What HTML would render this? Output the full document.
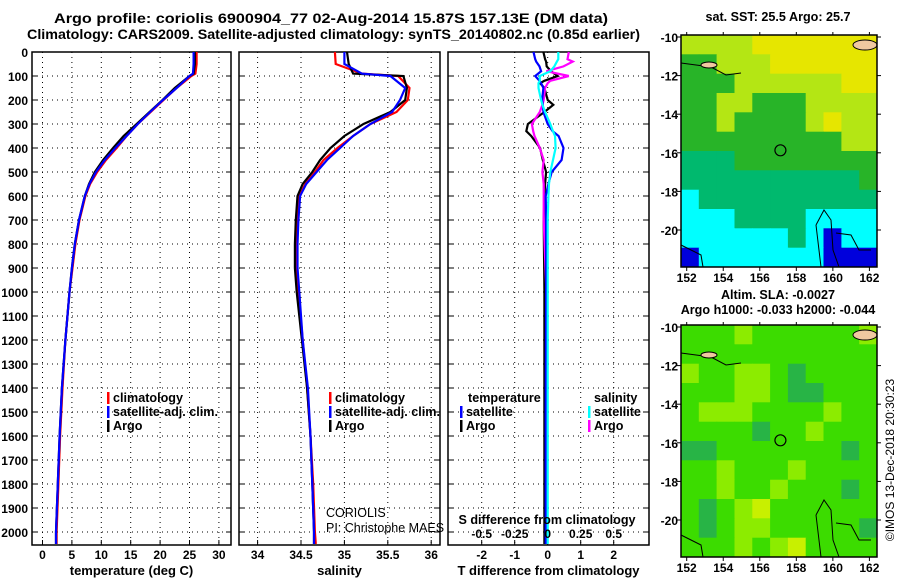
<!DOCTYPE html>
<html><head><meta charset="utf-8"><style>
html,body{margin:0;padding:0;background:#fff;}
svg{display:block;font-family:"Liberation Sans",sans-serif;}
.b{font-weight:bold;font-size:12px;}
.lg{font-weight:bold;font-size:12.6px;}
.at{font-weight:bold;font-size:13px;}
.t{font-weight:bold;font-size:14px;}
</style></head><body>
<svg id="chart" width="900" height="580" viewBox="0 0 900 580" xmlns="http://www.w3.org/2000/svg">
<text class="t" x="54" y="23" textLength="554" lengthAdjust="spacingAndGlyphs">Argo profile: coriolis 6900904_77 02-Aug-2014 15.87S 157.13E (DM data)</text>
<text class="t" x="27" y="39" textLength="613" lengthAdjust="spacingAndGlyphs">Climatology: CARS2009. Satellite-adjusted climatology: synTS_20140802.nc (0.85d earlier)</text>
<g id="g1"></g>
<g id="g2"></g>
<g id="g3"></g>
<g id="m1"></g>
<g id="m2"></g>
<text x="0" y="0" font-size="12" transform="translate(894,460) rotate(-90)" text-anchor="middle">©IMOS 13-Dec-2018 20:30:23</text>
</svg>
<script>
// ---- data ----
const depths = [0,50,90,100,150,200,250,300,350,400,450,500,550,600,700,800,900,1000,1200,1400,1600,1800,2000,2050];
const tempArgo = [25.9,25.9,25.7,25.0,22.5,20.4,18.2,16.0,13.8,12.0,10.3,8.9,7.9,7.2,6.2,5.5,5.0,4.6,3.9,3.3,2.9,2.6,2.3,2.3];
const tempClim = [26.2,26.2,26.0,25.3,22.8,20.6,18.4,16.2,14.3,12.6,10.8,9.3,8.1,7.3,6.3,5.6,5.1,4.6,3.9,3.4,3.0,2.7,2.4,2.4];
const tempSat  = [25.7,25.7,25.6,25.0,22.8,20.5,18.3,16.2,14.3,12.4,10.6,9.1,8.0,7.2,6.2,5.5,5.0,4.6,3.9,3.3,2.9,2.6,2.3,2.3];
const salArgo = [35.03,35.05,35.1,35.68,35.72,35.70,35.53,35.22,35.00,34.84,34.72,34.63,34.52,34.46,34.44,34.43,34.43,34.45,34.51,34.57,34.61,34.63,34.65,34.65];
const salClim = [34.89,34.90,35.2,35.62,35.75,35.73,35.60,35.30,35.10,34.92,34.76,34.66,34.55,34.48,34.46,34.45,34.45,34.47,34.52,34.57,34.61,34.64,34.66,34.67];
const salSat  = [35.00,35.00,35.2,35.53,35.70,35.64,35.55,35.30,35.10,34.95,34.80,34.68,34.56,34.49,34.47,34.46,34.46,34.48,34.52,34.58,34.61,34.63,34.65,34.65];
const diffDepths = [0,30,40,60,80,100,120,130,150,200,220,250,300,330,350,400,450,500,550,600,700,1000,1500,2050];
const tdiffArgo = [-0.13,-0.08,-0.05,-0.03,0.1,0.3,-0.1,-0.23,-0.1,0.0,0.17,-0.1,-0.6,-0.65,-0.5,-0.23,-0.15,-0.05,-0.08,-0.1,-0.12,-0.1,-0.1,-0.1];
const tdiffSat  = [-0.43,-0.38,-0.35,-0.25,-0.2,-0.38,-0.25,-0.2,-0.13,-0.17,-0.15,-0.13,0.0,0.15,0.33,0.48,0.42,0.12,0.02,-0.06,-0.05,-0.05,-0.06,-0.06];
const sdiffSat  = [0.08,0.08,0.07,0.05,0.02,-0.06,-0.06,-0.07,-0.07,-0.05,-0.04,-0.02,0.02,0.04,0.055,0.06,0.04,0.02,0.01,0.005,0.0,0.0,0.0,0.0];
const sdiffArgo = [0.16,0.15,0.19,0.12,-0.01,0.16,0.02,0.0,-0.02,-0.03,-0.04,-0.06,-0.12,-0.11,-0.1,-0.06,-0.03,-0.04,-0.03,-0.03,-0.03,-0.01,-0.01,-0.01];
const depthTicks = [0,100,200,300,400,500,600,700,800,900,1000,1100,1200,1300,1400,1500,1600,1700,1800,1900,2000];
const tempTicks = [0,5,10,15,20,25,30];
const salTicks = [34,34.5,35,35.5,36];
const salTickLabels = ["34","34.5","35","35.5","36"];
const tdTicks = [-2,-1,0,1,2];
const sdTicks = [-0.5,-0.25,0,0.25,0.5];
const sdTickLabels = ["-0.5","-0.25","0","0.25","0.5"];
const lonTicks = [152,154,156,158,160,162];
const latTicks = [-10,-12,-14,-16,-18,-20];
const sstGrid = [
[4,4,4,4,5,5,5,5,5,5,5],
[3,3,4,4,4,5,5,5,5,5,5],
[3,3,3,4,4,4,4,4,4,5,5],
[3,3,4,4,3,3,3,4,4,4,4],
[3,3,4,3,3,3,3,4,5,4,4],
[3,3,3,3,3,3,3,3,3,4,4],
[2,2,2,3,3,3,3,3,3,3,3],
[2,2,2,2,2,2,2,2,2,2,3],
[1,2,2,2,2,2,2,2,2,2,2],
[1,1,1,2,2,2,2,1,1,1,1],
[1,1,1,1,1,1,2,1,0,1,1],
[0,1,1,1,1,1,1,1,0,0,0]];
const slaGrid = [
[1,1,1,2,1,1,1,1,1,1,2],
[1,1,1,1,1,1,1,1,1,1,1],
[2,1,1,2,2,1,0,1,1,1,1],
[1,1,1,2,2,1,0,0,1,1,1],
[1,2,2,2,1,1,1,1,2,1,1],
[1,1,1,1,0,1,1,2,1,1,1],
[0,0,1,1,1,1,1,1,1,0,1],
[1,1,2,1,1,1,2,1,1,1,1],
[1,1,2,1,1,2,1,1,1,0,1],
[1,0,1,2,3,1,1,1,1,1,1],
[1,0,1,2,2,1,1,1,1,1,0],
[1,1,1,2,1,2,3,1,1,1,1]];
const sstColors = ["#0000dc","#00ffff","#00b96e","#28b428","#b4e614","#e6e600"];
const slaColors = ["#28b446","#3cdc00","#8cec00","#c8f000"];
const argoLon = 157.13, argoLat = -15.87;

// ---- helpers ----
const NS="http://www.w3.org/2000/svg";
function mk(parent,tag,attrs,text){const e=document.createElementNS(NS,tag);for(const k in attrs)e.setAttribute(k,attrs[k]);if(text!==undefined)e.textContent=text;parent.appendChild(e);return e;}
const Y0=52, Y1=545;
const yD = d => Y0 + d*0.24;

function panel(g,x0,x1,xs,xticks,xlabels,title,grid){
  const frame=mk(g,'rect',{x:x0,y:Y0,width:x1-x0,height:Y1-Y0,fill:'none',stroke:'#000','stroke-width':1.5});
  
  
  depthTicks.forEach(d=>{
    const l=mk(g,'line',{x1:x0,x2:x1,y1:yD(d),y2:yD(d),stroke:'#000','stroke-dasharray':'1,4'});
    
    
    mk(g,'line',{x1:x0,x2:x0+5,y1:yD(d),y2:yD(d),stroke:'#000'});
    mk(g,'line',{x1:x1-5,x2:x1,y1:yD(d),y2:yD(d),stroke:'#000'});
  });
  grid.forEach(v=>{
    const l=mk(g,'line',{x1:xs(v),x2:xs(v),y1:Y0,y2:Y1,stroke:'#000','stroke-dasharray':'1,4'});
    
    
  });
  xticks.forEach((v,i)=>{
    mk(g,'line',{x1:xs(v),x2:xs(v),y1:Y1,y2:Y1-5,stroke:'#000'});
    const t=mk(g,'text',{x:xs(v),y:559,'text-anchor':'middle','class':'b'},xlabels[i]);
    
    
  });
  const tt=mk(g,'text',{x:(x0+x1)/2,y:575,'text-anchor':'middle','class':'at'},title);
  
  
}
function profile(g,xs,vals,ds,color,name){
  const pts=vals.map((v,i)=>xs(v).toFixed(1)+','+yD(ds[i]).toFixed(1)).join(' ');
  const p=mk(g,'polyline',{points:pts,fill:'none',stroke:color,'stroke-width':2.2});
  
  
}
function legend(g,x,y,items){
  items.forEach((it,i)=>{
    mk(g,'rect',{x:x,y:y+i*14-10,width:2.5,height:12,fill:it[0]});
    const t=mk(g,'text',{x:x+6,y:y+i*14,'class':'lg'},it[1]);
    
    
  });
}

// ---- panel 1: temperature ----
const g1=document.getElementById('g1');
const xT = v => 42.5 + v*5.88;
panel(g1,32,231,xT,tempTicks,tempTicks.map(String),'temperature (deg C)',tempTicks);
depthTicks.forEach(d=>{
  const t=mk(g1,'text',{x:28,y:yD(d)+5,'text-anchor':'end','class':'b'},String(d));
  
  
});
profile(g1,xT,tempClim,depths,'#f00','temp-climatology-line');
profile(g1,xT,tempArgo,depths,'#000','temp-argo-line');
profile(g1,xT,tempSat,depths,'#00f','temp-satellite-line');
legend(g1,107,402,[['#f00','climatology'],['#00f','satellite-adj. clim.'],['#000','Argo']]);

// ---- panel 2: salinity ----
const g2=document.getElementById('g2');
const xS = v => 257.6 + (v-34)*86.8;
panel(g2,239,440,xS,salTicks,salTickLabels,'salinity',salTicks);
profile(g2,xS,salClim,depths,'#f00','sal-climatology-line');
profile(g2,xS,salArgo,depths,'#000','sal-argo-line');
profile(g2,xS,salSat,depths,'#00f','sal-satellite-line');
legend(g2,329,402,[['#f00','climatology'],['#00f','satellite-adj. clim.'],['#000','Argo']]);
const c1=mk(g2,'text',{x:326,y:517,'font-size':12.5},'CORIOLIS');


const c2=mk(g2,'text',{x:326,y:532,'font-size':12.5},'PI: Christophe MAES');



// ---- panel 3: differences ----
const g3=document.getElementById('g3');
const xTD = v => 547.7 + v*33;
const xSD = v => 547.7 + v*132;
panel(g3,448,649,xTD,tdTicks,tdTicks.map(String),'T difference from climatology',tdTicks);
profile(g3,xTD,tdiffArgo,diffDepths,'#000','tdiff-argo-line');
profile(g3,xSD,sdiffArgo,diffDepths,'#f0f','sdiff-argo-line');
profile(g3,xTD,tdiffSat,diffDepths,'#00f','tdiff-satellite-line');
profile(g3,xSD,sdiffSat,diffDepths,'#0ff','sdiff-satellite-line');
const lt=mk(g3,'text',{x:468,y:402,'class':'lg'},'temperature');


legend(g3,460,416,[['#00f','satellite'],['#000','Argo']]);
const ls=mk(g3,'text',{x:594,y:402,'class':'lg'},'salinity');


legend(g3,588,416,[['#0ff','satellite'],['#f0f','Argo']]);
const st=mk(g3,'text',{x:547,y:524,'text-anchor':'middle','class':'lg'},'S difference from climatology');


sdTicks.forEach((v,i)=>{
  const t=mk(g3,'text',{x:xSD(v),y:538,'text-anchor':'middle','class':'b'},sdTickLabels[i]);
  
  
});

// ---- maps ----
function map(g,top,grid,colors,titles,name){
  const L=681,R=877,T=top,B=top+232;
  const xl = lon => 686.7 + (lon-152)*18.27;
  const yl = lat => T+2 + (-10-lat)*19.3;
  const rows=grid.length, cols=grid[0].length;
  const cw=(R-L)/cols, ch=(B-T)/rows;
  grid.forEach((row,r)=>row.forEach((v,c)=>{
    const cell=mk(g,'rect',{x:(L+c*cw).toFixed(1),y:(T+r*ch).toFixed(1),width:(cw+0.5).toFixed(1),height:(ch+0.5).toFixed(1),fill:colors[v]});
    
    
  }));
  mk(g,'path',{d:`M${L} ${T+28} L${L+30} ${T+32} L${L+45} ${T+40} L${L+60} ${T+38}`,fill:'none',stroke:'#000'});
  mk(g,'path',{d:`M${L+135} ${T+190} L${L+143} ${T+175} L${L+150} ${T+185} L${L+152} ${T+215} L${L+158} ${T+232} M${L+135} ${T+190} L${L+140} ${T+232}`,fill:'none',stroke:'#000'});
  mk(g,'path',{d:`M${L+155} ${T+198} L${L+170} ${T+200} L${L+178} ${T+215} L${L+190} ${T+215}`,fill:'none',stroke:'#000'});
  mk(g,'path',{d:`M${L} ${T+210} L${L+20} ${T+220} L${L+22} ${T+232}`,fill:'none',stroke:'#000'});
  mk(g,'ellipse',{cx:R-12,cy:T+10,rx:12,ry:5,fill:'#f0c8a0',stroke:'#000'});
  mk(g,'ellipse',{cx:L+28,cy:T+30,rx:8,ry:3,fill:'#f0c8a0',stroke:'#000'});
  const fr=mk(g,'rect',{x:L,y:T,width:R-L,height:B-T,fill:'none',stroke:'#000','stroke-width':1.5});
  
  
  const circ=mk(g,'circle',{cx:xl(argoLon),cy:yl(argoLat),r:5.5,fill:'none',stroke:'#000','stroke-width':1.2});
  
  
  latTicks.forEach(v=>{
    mk(g,'line',{x1:L-4,x2:L,y1:yl(v),y2:yl(v),stroke:'#000'});
    mk(g,'line',{x1:R,x2:R+4,y1:yl(v),y2:yl(v),stroke:'#000'});
    const t=mk(g,'text',{x:L-3,y:yl(v)+5,'text-anchor':'end','class':'b'},String(v));
    
    
  });
  lonTicks.forEach(v=>{
    mk(g,'line',{x1:xl(v),x2:xl(v),y1:B,y2:B+4,stroke:'#000'});
    mk(g,'line',{x1:xl(v),x2:xl(v),y1:T-3,y2:T,stroke:'#000'});
    const t=mk(g,'text',{x:xl(v),y:B+15,'text-anchor':'middle','class':'b'},String(v));
    
    
  });
  titles.forEach((s,i)=>{
    const t=mk(g,'text',{x:778,y:titles.length===1?T-14:T-26+i*15,'text-anchor':'middle','class':'lg'},s);
    
    
  });
}
map(document.getElementById('m1'),35,sstGrid,sstColors,['sat. SST: 25.5 Argo: 25.7'],'sst-map');
map(document.getElementById('m2'),325,slaGrid,slaColors,['Altim. SLA: -0.0027','Argo h1000: -0.033 h2000: -0.044'],'sla-map');
</script>
</body></html>
